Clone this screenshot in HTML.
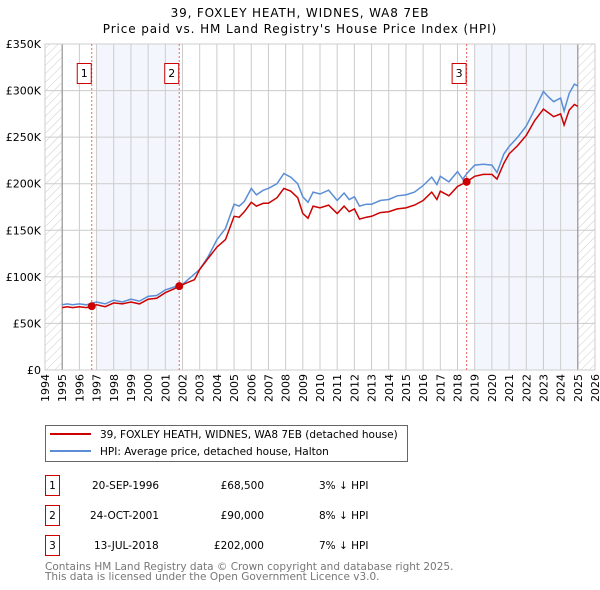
<!DOCTYPE html>
<html><head><meta charset="utf-8">
<style>
body{margin:0;background:#fff;font-family:"DejaVu Sans","Liberation Sans",sans-serif;}
#wrap{position:relative;width:600px;height:590px;overflow:hidden;}
</style></head><body>
<div id="wrap">
<svg id="chart" width="600" height="590" style="position:absolute;left:0;top:0">
<defs><pattern id="hatch" width="6" height="6" patternUnits="userSpaceOnUse" patternTransform="rotate(45)"><line x1="0" y1="0" x2="0" y2="6" stroke="#ccc" stroke-width="1"/></pattern></defs>
<text x="300" y="17" text-anchor="middle" font-size="12" letter-spacing="0.85">39, FOXLEY HEATH, WIDNES, WA8 7EB</text>
<text x="300" y="33" text-anchor="middle" font-size="12" letter-spacing="0.9">Price paid vs. HM Land Registry's House Price Index (HPI)</text>
<g id="plot"></g>
</svg>
<svg width="600" height="590" style="position:absolute;left:0;top:0">
<rect x="45.5" y="425.5" width="362" height="36" fill="#fff" stroke="#666"/>
<line x1="50" y1="434" x2="91" y2="434" stroke="#cc0000" stroke-width="2"/>
<text x="100" y="438" font-size="10.5">39, FOXLEY HEATH, WIDNES, WA8 7EB (detached house)</text>
<line x1="50" y1="451" x2="91" y2="451" stroke="#5b8ed6" stroke-width="2"/>
<text x="100" y="455" font-size="10.5">HPI: Average price, detached house, Halton</text>
<g font-size="10.5">
<rect x="45.5" y="475.5" width="14" height="20" fill="#fff" stroke="#cc0000"/><text x="52.5" y="489" text-anchor="middle">1</text>
<text x="92" y="489">20-SEP-1996</text><text x="264" y="489" text-anchor="end">£68,500</text><text x="319" y="489">3% ↓ HPI</text>
<rect x="45.5" y="505.5" width="14" height="20" fill="#fff" stroke="#cc0000"/><text x="52.5" y="519" text-anchor="middle">2</text>
<text x="90" y="519">24-OCT-2001</text><text x="264" y="519" text-anchor="end">£90,000</text><text x="319" y="519">8% ↓ HPI</text>
<rect x="45.5" y="535.5" width="14" height="20" fill="#fff" stroke="#cc0000"/><text x="52.5" y="549" text-anchor="middle">3</text>
<text x="94" y="549">13-JUL-2018</text><text x="264" y="549" text-anchor="end">£202,000</text><text x="319" y="549">7% ↓ HPI</text>
</g>
<text x="45" y="570" font-size="10.5" fill="#777">Contains HM Land Registry data © Crown copyright and database right 2025.</text>
<text x="45" y="580" font-size="10.5" fill="#777">This data is licensed under the Open Government Licence v3.0.</text>
</svg>
</div>
<script>
const hpiYears=[1995,1995.3,1995.6,1996,1996.4,1996.8,1997,1997.5,1998,1998.5,1999,1999.5,2000,2000.5,2001,2001.5,2002,2002.5,2003,2003.5,2004,2004.5,2005,2005.3,2005.6,2006,2006.3,2006.7,2007,2007.5,2007.9,2008.3,2008.7,2009,2009.3,2009.6,2010,2010.5,2011,2011.4,2011.7,2012,2012.3,2012.7,2013,2013.5,2014,2014.5,2015,2015.5,2016,2016.5,2016.8,2017,2017.5,2018,2018.3,2018.6,2019,2019.5,2020,2020.3,2020.7,2021,2021.5,2022,2022.5,2023,2023.3,2023.6,2024,2024.2,2024.5,2024.8,2025];
const hpiValues=[70,71,70,71,70,72,73,71,75,73,76,74,79,80,86,89,92,100,108,122,140,152,178,176,181,195,188,193,195,200,211,207,200,186,180,191,189,193,182,190,183,186,176,178,178,182,183,187,188,191,198,207,199,208,202,213,205,212,220,221,220,212,232,240,250,262,280,299,293,288,292,278,297,307,305];
const redYears=[1995,1995.3,1995.6,1996,1996.4,1996.72,1997,1997.5,1998,1998.5,1999,1999.5,2000,2000.5,2001,2001.5,2001.81,2002.3,2002.7,2003,2003.5,2004,2004.5,2005,2005.3,2005.6,2006,2006.3,2006.7,2007,2007.5,2007.9,2008.3,2008.7,2009,2009.3,2009.6,2010,2010.5,2011,2011.4,2011.7,2012,2012.3,2012.7,2013,2013.5,2014,2014.5,2015,2015.5,2016,2016.5,2016.8,2017,2017.5,2018,2018.53,2019,2019.5,2020,2020.3,2020.7,2021,2021.5,2022,2022.5,2023,2023.3,2023.6,2024,2024.2,2024.5,2024.8,2025];
const redValues=[67,68,67,68,67,68.5,70,68,72,71,73,71,76,77,83,87,90,94,97,108,120,132,140,165,164,170,180,176,179,179,185,195,192,185,168,163,176,174,177,168,176,170,173,162,164,165,169,170,173,174,177,182,191,183,192,187,197,202,208,210,210,205,222,232,241,252,268,280,276,272,275,263,279,285,283];
const sales=[[1996.72,68500],[2001.81,90000],[2018.53,202000]];
const yTicks=[0,50,100,150,200,250,300,350];
const yTickLabels=["£0","£50K","£100K","£150K","£200K","£250K","£300K","£350K"];
const xTicks=[1994,1995,1996,1997,1998,1999,2000,2001,2002,2003,2004,2005,2006,2007,2008,2009,2010,2011,2012,2013,2014,2015,2016,2017,2018,2019,2020,2021,2022,2023,2024,2025,2026];

const L=45,R=595,T=44,B=370;
const x=v=>L+(v-1994)/32*(R-L);
const y=v=>B-v/350*(B-T);
const NS="http://www.w3.org/2000/svg";
const g=document.getElementById('plot');
function mk(tag,attrs){const e=document.createElementNS(NS,tag);for(const k in attrs)e.setAttribute(k,attrs[k]);g.appendChild(e);return e;}
let e;
e=mk('rect',{x:L,y:T,width:R-L,height:B-T,fill:'#fff'});


e=mk('rect',{x:x(1994),y:T,width:x(1995)-x(1994),height:B-T,fill:'url(#hatch)'});


e=mk('rect',{x:x(2025),y:T,width:x(2026)-x(2025),height:B-T,fill:'url(#hatch)'});


e=mk('rect',{x:x(1997),y:T,width:x(sales[1][0])-x(1997),height:B-T,fill:'#eef3fc',opacity:0.7});


e=mk('rect',{x:x(2019),y:T,width:x(2025)-x(2019),height:B-T,fill:'#eef3fc',opacity:0.7});


yTicks.forEach((v,i)=>{
 e=mk('line',{x1:L,x2:R,y1:y(v),y2:y(v),stroke:'#ccc','stroke-width':1});
 
 
 e=mk('text',{x:L-4,y:y(v)+4,'text-anchor':'end','font-size':11});
 e.textContent=yTickLabels[i];
 
 
});
xTicks.forEach(v=>{
 e=mk('line',{x1:x(v),x2:x(v),y1:T,y2:B,stroke:'#ccc','stroke-width':1});
 
 
 e=mk('text',{transform:`translate(${x(v)+4},${B+4}) rotate(-90)`,'text-anchor':'end','font-size':11});
 e.textContent=v;
 
 
});
e=mk('line',{x1:x(1995),x2:x(1995),y1:T,y2:B,stroke:'#888'});


e=mk('line',{x1:x(2025),x2:x(2025),y1:T,y2:B,stroke:'#888'});


e=mk('rect',{x:L,y:T,width:R-L,height:B-T,fill:'none',stroke:'#ccc'});


sales.forEach((s,i)=>{
 e=mk('line',{x1:x(s[0]),x2:x(s[0]),y1:T,y2:B,stroke:'#e66','stroke-dasharray':'2,2'});
 
 
 e=mk('rect',{x:x(s[0])-14.5,y:63.5,width:14,height:20,fill:'#fff',stroke:'#cc0000'});
 
 
 e=mk('text',{x:x(s[0])-7.5,y:77,'text-anchor':'middle','font-size':11});
 e.textContent=String(i+1);
 
 
});
function path(xs,vs){return xs.map((t,i)=>(i?'L':'M')+x(t).toFixed(1)+','+y(vs[i]).toFixed(1)).join('');}
e=mk('path',{d:path(hpiYears,hpiValues),fill:'none',stroke:'#5b8ed6','stroke-width':1.5});


e=mk('path',{d:path(redYears,redValues),fill:'none',stroke:'#cc0000','stroke-width':1.5});


sales.forEach(s=>{
 e=mk('circle',{cx:x(s[0]),cy:y(s[1]/1000),r:4,fill:'#cc0000'});
 
 
});
</script>
</body></html>
